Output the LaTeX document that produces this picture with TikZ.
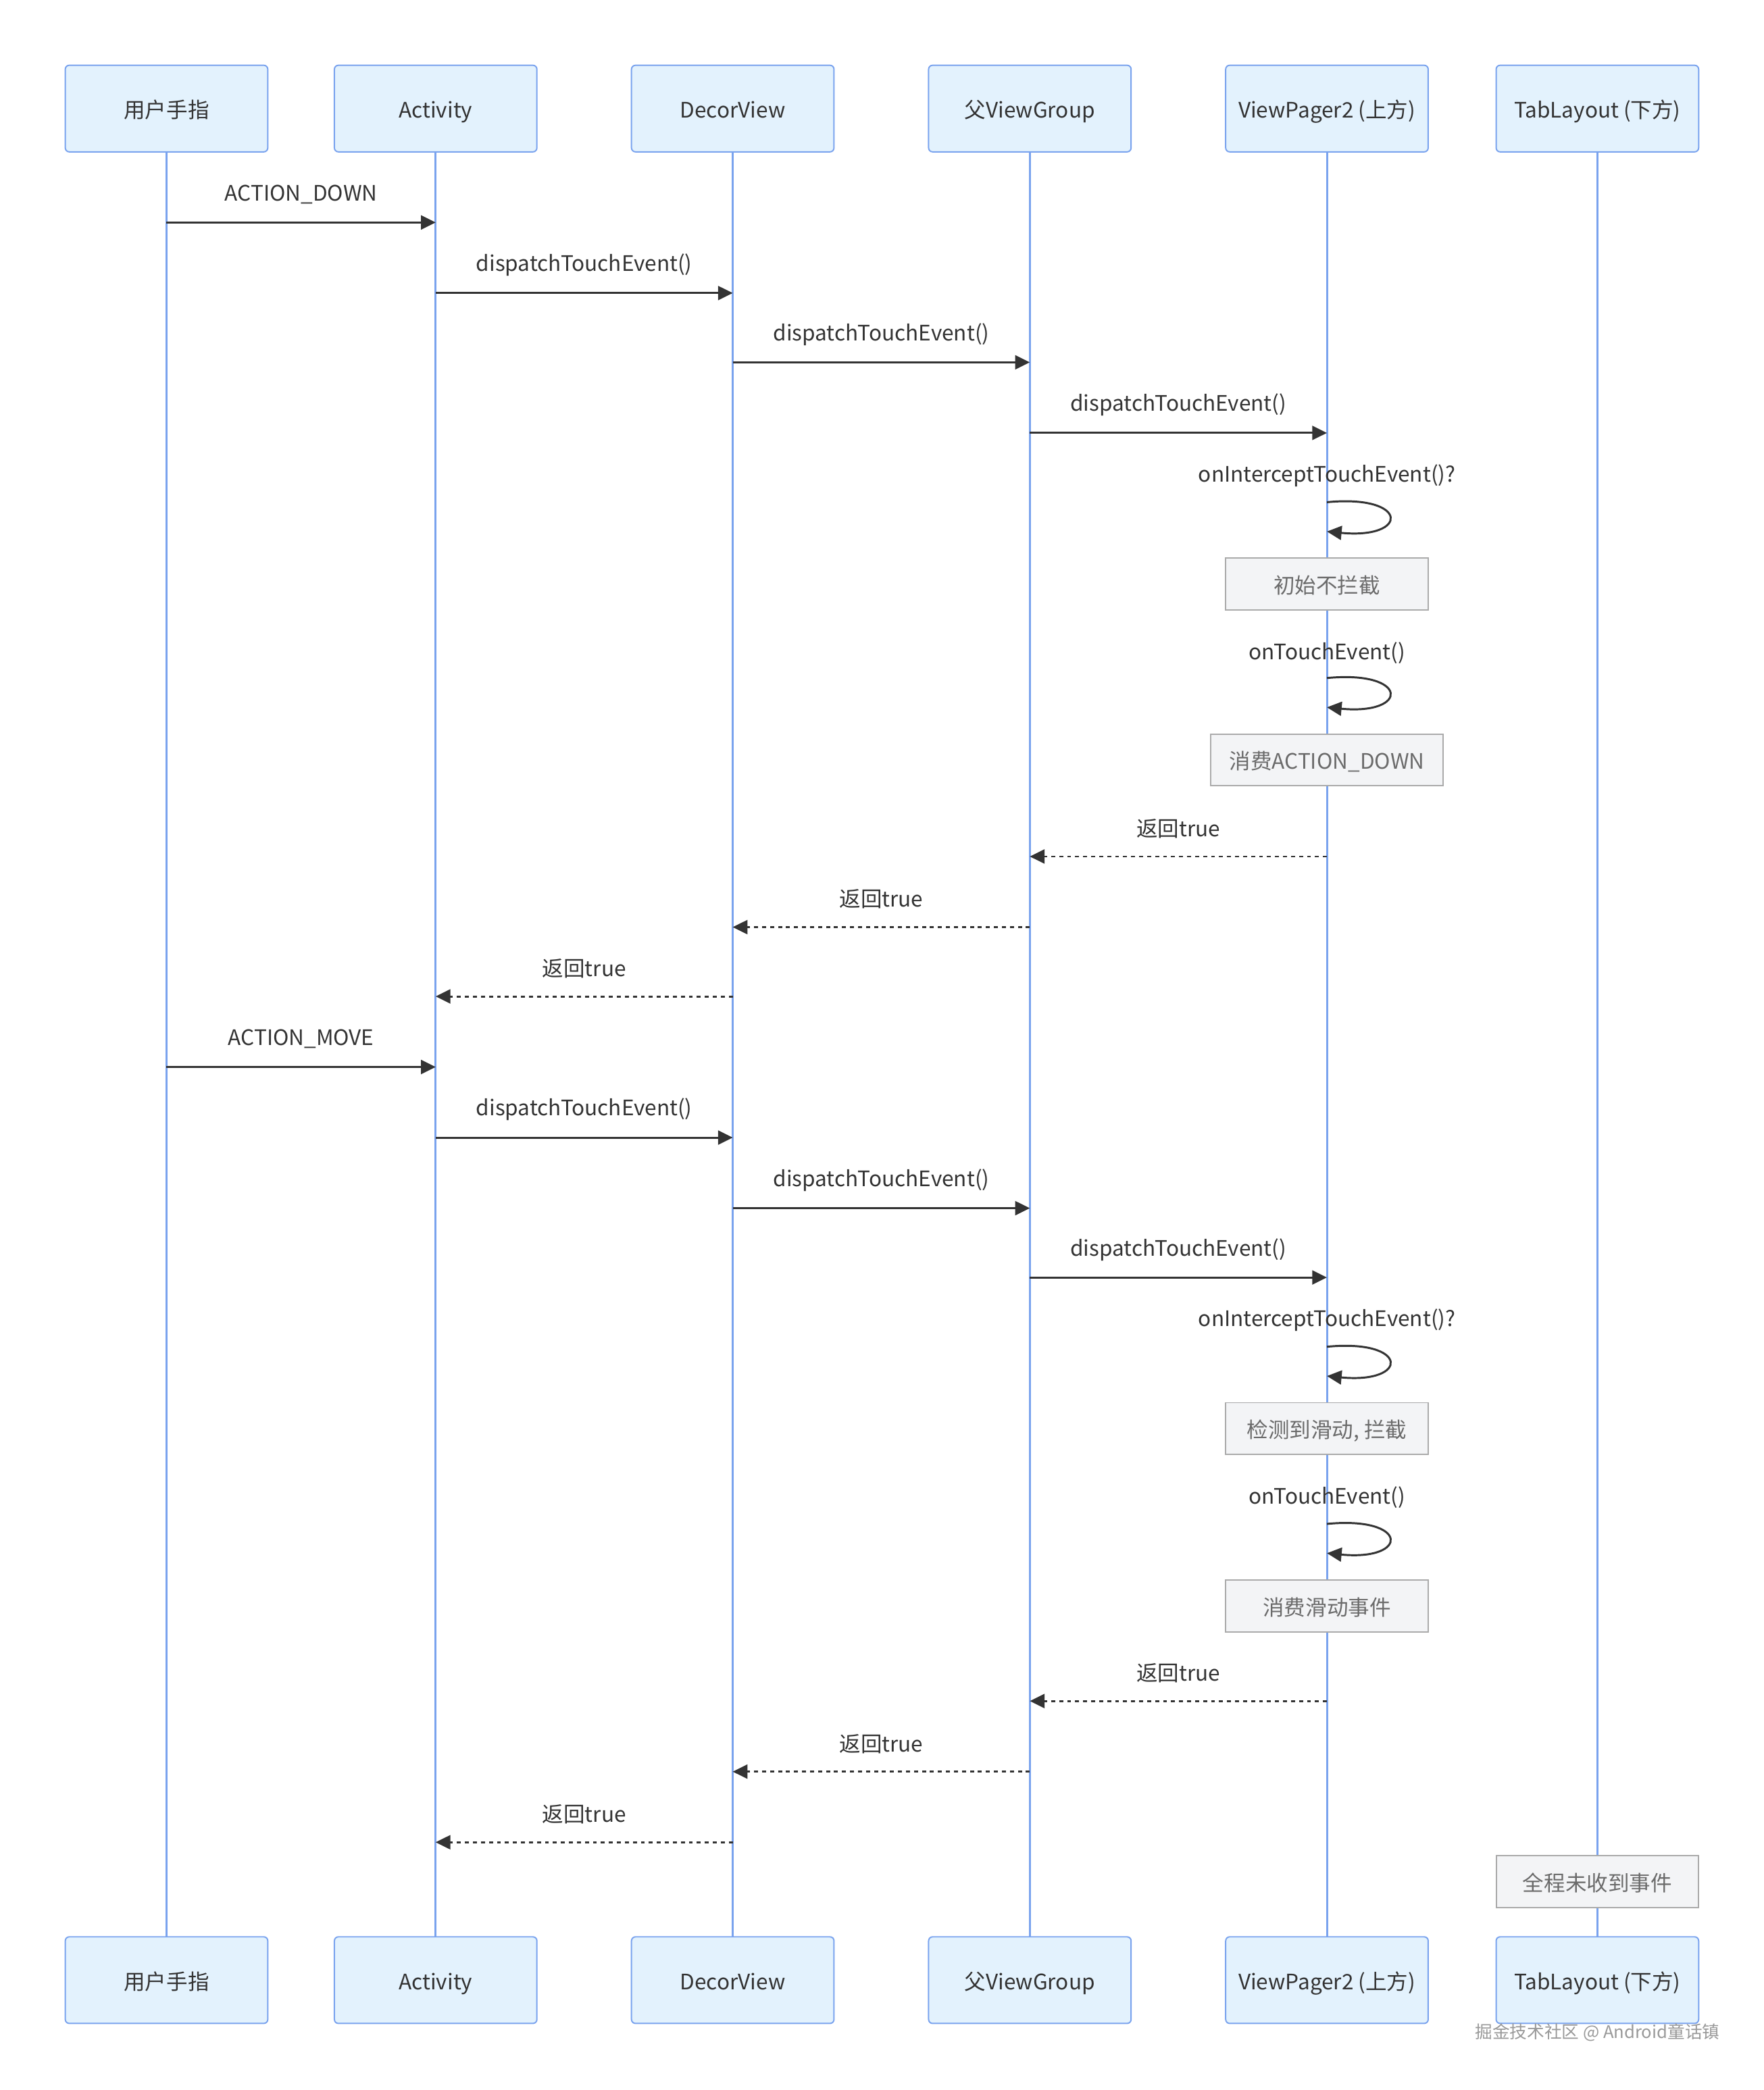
\documentclass[tikz,border=0pt]{standalone}
\usepackage{fontspec}
\setmainfont{Noto Sans CJK SC}
\usepackage{tikz}
\usetikzlibrary{arrows.meta}
\usetikzlibrary{positioning}
\definecolor{actfill}{HTML}{E3F2FD}
\definecolor{actline}{HTML}{7AA3EE}
\definecolor{msgline}{HTML}{333333}
\definecolor{notefill}{HTML}{F3F4F6}
\definecolor{noteline}{HTML}{AAAAAA}
\definecolor{notetext}{HTML}{6B6B6B}
\tikzset{
    actor/.style={
           rectangle, rounded corners=3pt,
           draw=actline, line width=1pt,
           fill=actfill, outer sep=0pt,
           minimum width=152pt, minimum height=65pt,
           text height=14pt, text depth=0pt,
           font=\fontsize{16}{19}\selectfont,
           text=msgline,
           },
}
\tikzset{
    note/.style={
           rectangle,
           draw=noteline, line width=1pt,
           fill=notefill,
           minimum width=152pt, minimum height=39pt,
           inner xsep=14pt,
           text height=14pt, text depth=0pt,
           font=\fontsize{16}{19}\selectfont,
           text=notetext,
           },
}
\tikzset{
    life/.style={draw=actline, line width=1.6pt},
    call/.style={draw=msgline, line width=1.5pt, -{Triangle[length=11pt,width=10.5pt]}},
    reply/.style={call, dash pattern=on 3pt off 3pt},
    txt/.style={font=\fontsize{16}{19}\selectfont, text=msgline},
    lbl/.style={txt, midway, yshift=21pt},
}

\begin{document}
\begin{tikzpicture}[x=1pt,y=-1pt]
\useasboundingbox (0,0) rectangle (1324,1569);
% participants, top row
\node[actor](finger) at (125,81.5){用户手指};
\node[actor,right=50pt of finger](act){Activity};
\node[actor,right=71pt of act](decor){DecorView};
\node[actor,right=71pt of decor](parent){父ViewGroup};
\node[actor,right=71pt of parent](vp){ViewPager2 (上方)};
\node[actor,right=51pt of vp](tab){TabLayout (下方)};
% participants, bottom row
\node[actor,below=1340pt of finger](finger2){用户手指};
\node[actor,below=1340pt of act](act2){Activity};
\node[actor,below=1340pt of decor](decor2){DecorView};
\node[actor,below=1340pt of parent](parent2){父ViewGroup};
\node[actor,below=1340pt of vp](vp2){ViewPager2 (上方)};
\node[actor,below=1340pt of tab](tab2){TabLayout (下方)};
\draw[life] (finger) -- (finger2);
\draw[life] (act) -- (act2);
\draw[life] (decor) -- (decor2);
\draw[life] (parent) -- (parent2);
\draw[life] (vp) -- (vp2);
\draw[life] (tab) -- (tab2);
% ACTION_DOWN
\draw[call] (finger |- 0,167) -- node[lbl]{ACTION\_DOWN} (act |- 0,167);
\draw[call] (act |- 0,220) -- node[lbl]{dispatchTouchEvent()} (decor |- 0,220);
\draw[call] (decor |- 0,272) -- node[lbl]{dispatchTouchEvent()} (parent |- 0,272);
\draw[call] (parent |- 0,325) -- node[lbl]{dispatchTouchEvent()} (vp |- 0,325);
\node[txt] at (vp |- 0,357) {onInterceptTouchEvent()?};
\draw[call] (vp |- 0,377) .. controls +(62,-6) and +(62,6) .. (vp |- 0,399);
\node[note] at (vp |- 0,438.5) {初始不拦截};
\node[txt] at (vp |- 0,490) {onTouchEvent()};
\draw[call] (vp |- 0,509) .. controls +(62,-6) and +(62,6) .. (vp |- 0,531);
\node[note] at (vp |- 0,570.5) {消费ACTION\_DOWN};
\draw[reply] (vp |- 0,643) -- node[lbl]{返回true} (parent |- 0,643);
\draw[reply] (parent |- 0,696) -- node[lbl]{返回true} (decor |- 0,696);
\draw[reply] (decor |- 0,748) -- node[lbl]{返回true} (act |- 0,748);
% ACTION_MOVE
\draw[call] (finger |- 0,801) -- node[lbl]{ACTION\_MOVE} (act |- 0,801);
\draw[call] (act |- 0,854) -- node[lbl]{dispatchTouchEvent()} (decor |- 0,854);
\draw[call] (decor |- 0,907) -- node[lbl]{dispatchTouchEvent()} (parent |- 0,907);
\draw[call] (parent |- 0,959) -- node[lbl]{dispatchTouchEvent()} (vp |- 0,959);
\node[txt] at (vp |- 0,991) {onInterceptTouchEvent()?};
\draw[call] (vp |- 0,1011) .. controls +(62,-6) and +(62,6) .. (vp |- 0,1033);
\node[note] at (vp |- 0,1072.5) {检测到滑动, 拦截};
\node[txt] at (vp |- 0,1124) {onTouchEvent()};
\draw[call] (vp |- 0,1144) .. controls +(62,-6) and +(62,6) .. (vp |- 0,1166);
\node[note] at (vp |- 0,1205.5) {消费滑动事件};
\draw[reply] (vp |- 0,1277) -- node[lbl]{返回true} (parent |- 0,1277);
\draw[reply] (parent |- 0,1330) -- node[lbl]{返回true} (decor |- 0,1330);
\draw[reply] (decor |- 0,1383) -- node[lbl]{返回true} (act |- 0,1383);
\node[note] at (tab |- 0,1412.5) {全程未收到事件};
% watermark
\node[font=\fontsize{13}{15}\selectfont, text=gray!80] (wm) at (1199,1526) {掘金技术社区 @ Android童话镇};
\end{tikzpicture}
\end{document}
